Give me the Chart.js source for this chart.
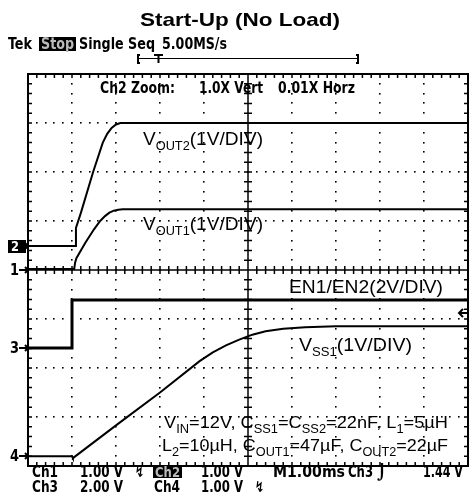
<!DOCTYPE html>
<html>
<head>
<meta charset="utf-8">
<script src="https://cdn.jsdelivr.net/npm/chart.js@4.4.1/dist/chart.umd.min.js"></script>
<style>
  html, body { margin: 0; padding: 0; background: #fff; }
  #wrap { width: 469px; height: 499px; }
</style>
</head>
<body>
<div id="wrap"><canvas id="scope" width="469" height="499"></canvas></div>
<script>
// Traces, in graticule divisions (x: 1.00ms/div, y: div)
const vout2Time  = [0, 1.08, 1.09, 1.2, 1.48, 1.7, 1.8, 1.9, 2.0, 2.1, 10];
const vout2Level = [0.49, 0.49, 0.86, 1.16, 2.0, 2.6, 2.78, 2.9, 2.97, 3.0, 3.0];
const vout1Time  = [0, 1.05, 1.07, 1.1, 1.3, 1.5, 1.64, 1.75, 1.85, 1.95, 2.05, 2.15, 10];
const vout1Level = [0.02, 0.02, 0.15, 0.24, 0.55, 0.83, 1.0, 1.1, 1.17, 1.21, 1.23, 1.24, 1.24];
const enTime     = [0, 1.0, 1.0, 10];
const enLevel    = [-1.59, -1.59, -0.61, -0.61];
const vssTime    = [0, 1.0, 1.02, 2.0, 3.0, 3.9, 4.2, 4.5, 4.8, 5.1, 5.4, 5.8, 6.3, 7.0, 10];
const vssLevel   = [-3.8, -3.8, -3.84, -3.17, -2.5, -1.86, -1.68, -1.54, -1.42, -1.32, -1.25, -1.2, -1.17, -1.15, -1.15];

// ground markers (div) for each channel
const markerLabels = ['1', '2', '3', '4'];
const markerLevels = [0.0, 0.49, -1.59, -3.8];
const triggerLevel = -0.88;

const LABEL_FONT = "'Liberation Sans', Arial, sans-serif";
const SCOPE_FONT = "'DejaVu Sans Condensed', 'DejaVu Sans', sans-serif";

function pts(xs, ys) {
    return xs.map((t, i) => ({ x: t, y: ys[i] }));
}

// draw a run of text parts, optional subscripts, squeezed to a target width
function drawRich(ctx, parts, x, base, size, opts = {}) {
    const weight = opts.bold ? 'bold ' : '';
    const fam = opts.family || LABEL_FONT;
    const subSize = Math.round(size * 0.68);
    let w = 0;
    parts.forEach(p => {
        ctx.font = weight + (p[1] ? subSize : size) + 'px ' + fam;
        w += ctx.measureText(p[0]).width;
    });
    const k = opts.width ? opts.width / w : 1;
    ctx.save();
    ctx.translate(x, base);
    ctx.scale(k, 1);
    ctx.fillStyle = opts.color || '#000';
    ctx.textBaseline = 'alphabetic';
    let cx = 0;
    parts.forEach(p => {
        ctx.font = weight + (p[1] ? subSize : size) + 'px ' + fam;
        ctx.fillText(p[0], cx, p[1] ? size * 0.3 : 0);
        cx += ctx.measureText(p[0]).width;
    });
    ctx.restore();
}

function scopeText(ctx, txt, x, base, width, size = 15, color) {
    drawRich(ctx, [[txt, false]], x, base, size, { bold: true, family: SCOPE_FONT, width, color });
}

const graticule = {
    id: 'graticule',
    beforeDatasetsDraw(chart) {
        const { ctx, chartArea: a, scales: { x, y } } = chart;
        ctx.save();
        ctx.fillStyle = '#000';
        ctx.strokeStyle = '#000';
        // dotted division lines
        for (let i = 1; i < 10; i++) {
            if (i === 5) continue;
            const px = Math.round(x.getPixelForValue(i));
            for (let j = 1; j < 40; j++) {
                const py = Math.round(y.getPixelForValue(-4 + j * 0.2));
                ctx.fillRect(px - 1, py - 1, 1.6, 1.6);
            }
        }
        for (let i = -3; i <= 3; i++) {
            if (i === 0) continue;
            const py = Math.round(y.getPixelForValue(i));
            for (let j = 1; j < 50; j++) {
                const px = Math.round(x.getPixelForValue(j * 0.2));
                ctx.fillRect(px - 1, py - 1, 1.6, 1.6);
            }
        }
        // frame
        ctx.lineWidth = 2;
        ctx.strokeRect(a.left, a.top, a.right - a.left, a.bottom - a.top);
        // center cross with minor ticks
        const cx = x.getPixelForValue(5), cy = y.getPixelForValue(0);
        ctx.lineWidth = 1.5;
        ctx.beginPath();
        ctx.moveTo(a.left, cy); ctx.lineTo(a.right, cy);
        ctx.moveTo(cx, a.top); ctx.lineTo(cx, a.bottom);
        for (let j = 1; j < 50; j++) {
            const px = x.getPixelForValue(j * 0.2);
            ctx.moveTo(px, cy - 4); ctx.lineTo(px, cy + 4);
            ctx.moveTo(px, a.top); ctx.lineTo(px, a.top + 4);
            ctx.moveTo(px, a.bottom); ctx.lineTo(px, a.bottom - 4);
        }
        for (let j = 1; j < 40; j++) {
            const py = y.getPixelForValue(-4 + j * 0.2);
            ctx.moveTo(cx - 4, py); ctx.lineTo(cx + 4, py);
            ctx.moveTo(a.left, py); ctx.lineTo(a.left + 4, py);
            ctx.moveTo(a.right, py); ctx.lineTo(a.right - 4, py);
        }
        ctx.stroke();
        ctx.restore();
    }
};

const annotations = {
    id: 'annotations',
    afterDraw(chart) {
        const { ctx, chartArea: a, scales: { x, y } } = chart;
        ctx.save();
        // title
        drawRich(ctx, [['Start-Up (No Load)', false]], 140, 26, 19, { bold: true, width: 200 });

        // status line
        scopeText(ctx, 'Tek', 8, 49, 24);
        ctx.fillStyle = '#000';
        ctx.fillRect(39, 37, 37, 14);
        scopeText(ctx, 'Stop', 41, 49, 33, 15, '#bbb');
        scopeText(ctx, 'Single Seq', 79, 49, 76);
        scopeText(ctx, '5.00MS/s', 162, 49, 65);

        // record bracket with trigger point
        ctx.strokeStyle = '#000';
        ctx.lineWidth = 2;
        ctx.beginPath();
        ctx.moveTo(140, 55); ctx.lineTo(138, 55); ctx.lineTo(138, 63); ctx.lineTo(140, 63);
        ctx.moveTo(356, 55); ctx.lineTo(358, 55); ctx.lineTo(358, 63); ctx.lineTo(356, 63);
        ctx.moveTo(154, 55); ctx.lineTo(163, 55);
        ctx.moveTo(158.5, 55); ctx.lineTo(158.5, 63);
        ctx.stroke();
        ctx.lineWidth = 1;
        ctx.beginPath();
        ctx.moveTo(138, 58.5); ctx.lineTo(358, 58.5);
        ctx.stroke();

        // zoom info
        scopeText(ctx, 'Ch2 Zoom:', 100, 93, 75);
        scopeText(ctx, '1.0X Vert', 199, 93, 64);
        scopeText(ctx, '0.01X Horz', 278, 93, 77);

        // channel ground markers
        markerLabels.forEach((lab, i) => {
            const py = Math.round(y.getPixelForValue(markerLevels[i]));
            if (lab === '2') {
                ctx.fillStyle = '#000';
                ctx.fillRect(8, py - 6, 18, 13);
                scopeText(ctx, lab, 11, py + 5, 8, 14, '#fff');
            } else {
                scopeText(ctx, lab, 10, py + 5, 9, 15);
            }
            ctx.strokeStyle = '#000';
            ctx.lineWidth = 2;
            ctx.beginPath();
            ctx.moveTo(19, py); ctx.lineTo(a.left, py);
            ctx.moveTo(a.left - 3, py - 3); ctx.lineTo(a.left, py); ctx.lineTo(a.left - 3, py + 3);
            ctx.stroke();
        });

        // trigger level arrow on the right
        const ty = Math.round(y.getPixelForValue(triggerLevel));
        ctx.beginPath();
        ctx.lineWidth = 2;
        ctx.moveTo(469, ty); ctx.lineTo(459, ty);
        ctx.moveTo(463, ty - 4); ctx.lineTo(459, ty); ctx.lineTo(463, ty + 4);
        ctx.stroke();

        // trace labels
        drawRich(ctx, [['V', false], ['OUT2', true], ['(1V/DIV)', false]], 143, 145, 18, { width: 120 });
        drawRich(ctx, [['V', false], ['OUT1', true], ['(1V/DIV)', false]], 143, 230, 18, { width: 120 });
        drawRich(ctx, [['EN1/EN2(2V/DIV)', false]], 289, 293, 18, { width: 154 });
        drawRich(ctx, [['V', false], ['SS1', true], ['(1V/DIV)', false]], 299, 351, 18, { width: 113 });
        drawRich(ctx, [['V', false], ['IN', true], ['=12V, C', false], ['SS1', true], ['=C', false], ['SS2', true],
            ['=22nF, L', false], ['1', true], ['=5\u00b5H', false]], 164, 428, 17, { width: 284 });
        drawRich(ctx, [['L', false], ['2', true], ['=10\u00b5H, C', false], ['OUT1', true], ['=47\u00b5F, C', false],
            ['OUT2', true], ['=22\u00b5F', false]], 162, 451, 17, { width: 286 });

        // readout
        scopeText(ctx, 'Ch1', 32, 477, 26);
        scopeText(ctx, '1.00 V', 80, 477, 43);
        scopeText(ctx, '\u21af', 135, 477, 9);
        ctx.fillStyle = '#000';
        ctx.fillRect(153, 465, 29, 13);
        scopeText(ctx, 'Ch2', 155, 477, 25, 14, '#bbb');
        scopeText(ctx, '1.00 V', 201, 477, 42);
        scopeText(ctx, 'M1.00ms', 273, 477, 72);
        scopeText(ctx, 'Ch3', 348, 477, 25);
        scopeText(ctx, '\u2321', 377, 477, 10);
        scopeText(ctx, '1.44 V', 423, 477, 40);
        scopeText(ctx, 'Ch3', 32, 492, 26);
        scopeText(ctx, '2.00 V', 80, 492, 43);
        scopeText(ctx, 'Ch4', 154, 492, 26);
        scopeText(ctx, '1.00 V', 201, 492, 42);
        scopeText(ctx, '\u21af', 255, 492, 9);
        ctx.restore();
    }
};

const traceStyle = { borderColor: '#000', pointRadius: 0, fill: false, tension: 0 };

new Chart(document.getElementById('scope'), {
    type: 'line',
    data: {
        datasets: [
            { ...traceStyle, label: 'VOUT2', data: pts(vout2Time, vout2Level), borderWidth: 2 },
            { ...traceStyle, label: 'VOUT1', data: pts(vout1Time, vout1Level), borderWidth: 2 },
            { ...traceStyle, label: 'EN1/EN2', data: pts(enTime, enLevel), borderWidth: 3 },
            { ...traceStyle, label: 'VSS1', data: pts(vssTime, vssLevel), borderWidth: 2 }
        ]
    },
    options: {
        responsive: false,
        animation: false,
        layout: { padding: { left: 28, right: 1, top: 74, bottom: 33 } },
        plugins: { legend: { display: false }, tooltip: { enabled: false } },
        scales: {
            x: { type: 'linear', min: 0, max: 10, display: false },
            y: { type: 'linear', min: -4, max: 4, display: false }
        }
    },
    plugins: [graticule, annotations]
});
</script>
</body>
</html>
